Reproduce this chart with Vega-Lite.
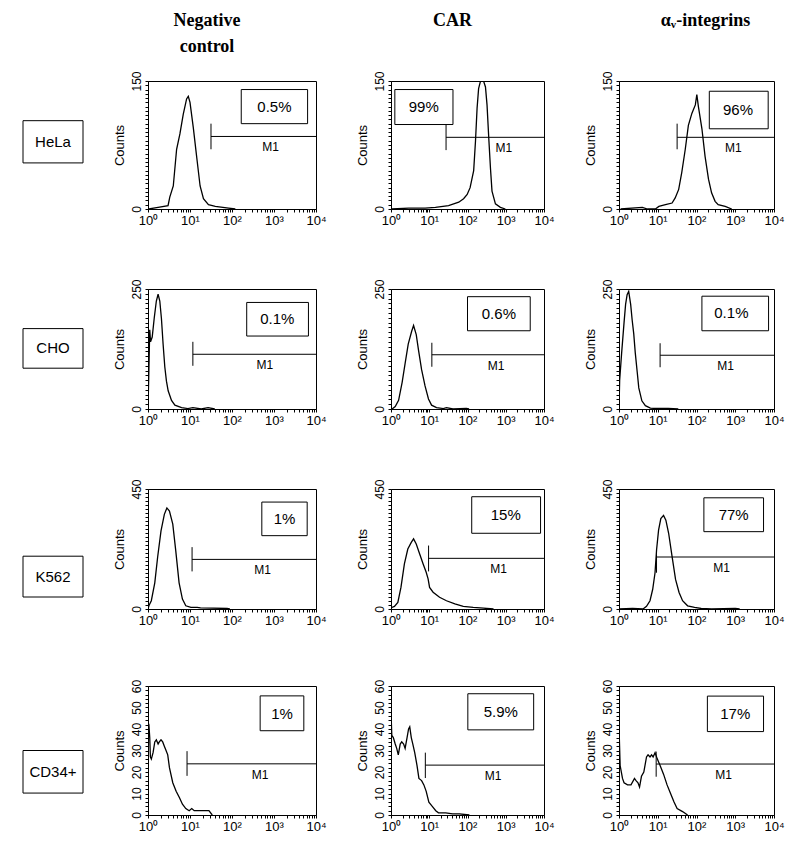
{
"$schema": "https://vega.github.io/schema/vega-lite/v6.json",
"padding": {"left": 22, "top": 11, "right": 5, "bottom": 5},
"background": "white",
"columns": 4,
"align": "each",
"spacing": {"row": 50, "column": 28},
"config": {
  "view": {"stroke": "black", "strokeWidth": 1},
  "axis": {"domainColor": "black", "tickColor": "black", "labelColor": "black", "titleColor": "black", "grid": false, "labelFont": "Liberation Sans", "titleFont": "Liberation Sans", "labelFlush": false, "labelOverlap": false, "tickSize": 3, "domainWidth": 1},
  "axisY": {"labelAngle": -90, "labelAlign": "center", "labelBaseline": "bottom", "titleFontWeight": "normal", "titleFontSize": 13, "labelFontSize": 12, "titlePadding": 4, "labelPadding": 2},
  "axisX": {"labelFontSize": 13, "labelPadding": 2},
  "title": {"font": "Liberation Serif", "fontSize": 18, "fontWeight": "bold", "color": "black", "anchor": "middle"},
  "line": {"color": "black", "strokeWidth": 1.3},
  "rule": {"color": "black", "strokeWidth": 1},
  "text": {"font": "Liberation Sans", "color": "black"}
},
"datasets": {
  "rowlabels": [
    {"row": "HeLa", "y1": 0.31, "y2": 0.64, "ym": 0.475},
    {"row": "CHO", "y1": 0.33, "y2": 0.66, "ym": 0.495},
    {"row": "K562", "y1": 0.56, "y2": 0.9, "ym": 0.73},
    {"row": "CD34+", "y1": 0.5, "y2": 0.83, "ym": 0.665}
  ],
  "annot": [
    {"panel":"HeLa-neg","kind":"gate","fl":31.6,"fl2":10000,"count":85},
    {"panel":"HeLa-neg","kind":"tick","fl":31.6,"count":70,"count2":100},
    {"panel":"HeLa-neg","kind":"m1","fl":832,"count":85,"text":"M1"},
    {"panel":"HeLa-neg","kind":"box","fl":166,"fl2":6310,"count":100,"count2":140},
    {"panel":"HeLa-neg","kind":"pct","fl":1023,"count":120,"text":"0.5%"},
    {"panel":"HeLa-CAR","kind":"gate","fl":27.5,"fl2":10000,"count":84},
    {"panel":"HeLa-CAR","kind":"tick","fl":27.5,"count":69,"count2":99},
    {"panel":"HeLa-CAR","kind":"m1","fl":891,"count":84,"text":"M1"},
    {"panel":"HeLa-CAR","kind":"box","fl":1.26,"fl2":41.7,"count":99,"count2":140},
    {"panel":"HeLa-CAR","kind":"pct","fl":7.2,"count":120,"text":"99%"},
    {"panel":"HeLa-av","kind":"gate","fl":31.6,"fl2":10000,"count":84},
    {"panel":"HeLa-av","kind":"tick","fl":31.6,"count":70,"count2":100},
    {"panel":"HeLa-av","kind":"m1","fl":891,"count":84,"text":"M1"},
    {"panel":"HeLa-av","kind":"box","fl":214,"fl2":7079,"count":94,"count2":138},
    {"panel":"HeLa-av","kind":"pct","fl":1175,"count":116,"text":"96%"},
    {"panel":"CHO-neg","kind":"gate","fl":11.7,"fl2":10000,"count":114},
    {"panel":"CHO-neg","kind":"tick","fl":11.7,"count":90,"count2":140},
    {"panel":"CHO-neg","kind":"m1","fl":603,"count":114,"text":"M1"},
    {"panel":"CHO-neg","kind":"box","fl":224,"fl2":6607,"count":152,"count2":222},
    {"panel":"CHO-neg","kind":"pct","fl":1202,"count":187,"text":"0.1%"},
    {"panel":"CHO-CAR","kind":"gate","fl":11.7,"fl2":10000,"count":113},
    {"panel":"CHO-CAR","kind":"tick","fl":11.7,"count":88,"count2":138},
    {"panel":"CHO-CAR","kind":"m1","fl":562,"count":113,"text":"M1"},
    {"panel":"CHO-CAR","kind":"box","fl":100,"fl2":4365,"count":163,"count2":234},
    {"panel":"CHO-CAR","kind":"pct","fl":661,"count":198,"text":"0.6%"},
    {"panel":"CHO-av","kind":"gate","fl":11.5,"fl2":10000,"count":112},
    {"panel":"CHO-av","kind":"tick","fl":11.5,"count":87,"count2":137},
    {"panel":"CHO-av","kind":"m1","fl":562,"count":112,"text":"M1"},
    {"panel":"CHO-av","kind":"box","fl":138,"fl2":7244,"count":163,"count2":235},
    {"panel":"CHO-av","kind":"pct","fl":794,"count":199,"text":"0.1%"},
    {"panel":"K562-neg","kind":"gate","fl":11.2,"fl2":10000,"count":186},
    {"panel":"K562-neg","kind":"tick","fl":11.2,"count":141,"count2":232},
    {"panel":"K562-neg","kind":"m1","fl":537,"count":186,"text":"M1"},
    {"panel":"K562-neg","kind":"box","fl":513,"fl2":6166,"count":275,"count2":401},
    {"panel":"K562-neg","kind":"pct","fl":1778,"count":338,"text":"1%"},
    {"panel":"K562-CAR","kind":"gate","fl":9.6,"fl2":10000,"count":190},
    {"panel":"K562-CAR","kind":"tick","fl":9.6,"count":141,"count2":238},
    {"panel":"K562-CAR","kind":"m1","fl":646,"count":190,"text":"M1"},
    {"panel":"K562-CAR","kind":"box","fl":129,"fl2":8128,"count":284,"count2":421},
    {"panel":"K562-CAR","kind":"pct","fl":1000,"count":352,"text":"15%"},
    {"panel":"K562-av","kind":"gate","fl":9.3,"fl2":10000,"count":195},
    {"panel":"K562-av","kind":"tick","fl":9.3,"count":136,"count2":205},
    {"panel":"K562-av","kind":"m1","fl":447,"count":195,"text":"M1"},
    {"panel":"K562-av","kind":"box","fl":155,"fl2":5370,"count":290,"count2":417},
    {"panel":"K562-av","kind":"pct","fl":912,"count":352,"text":"77%"},
    {"panel":"CD34-neg","kind":"gate","fl":8.5,"fl2":10000,"count":23.8},
    {"panel":"CD34-neg","kind":"tick","fl":8.5,"count":18.2,"count2":29.7},
    {"panel":"CD34-neg","kind":"m1","fl":468,"count":23.8,"text":"M1"},
    {"panel":"CD34-neg","kind":"box","fl":468,"fl2":5129,"count":39.2,"count2":55.4},
    {"panel":"CD34-neg","kind":"pct","fl":1549,"count":47,"text":"1%"},
    {"panel":"CD34-CAR","kind":"gate","fl":7.9,"fl2":10000,"count":23.2},
    {"panel":"CD34-CAR","kind":"tick","fl":7.9,"count":17.2,"count2":29},
    {"panel":"CD34-CAR","kind":"m1","fl":468,"count":23.2,"text":"M1"},
    {"panel":"CD34-CAR","kind":"box","fl":102,"fl2":5370,"count":39.6,"count2":56.4},
    {"panel":"CD34-CAR","kind":"pct","fl":741,"count":48,"text":"5.9%"},
    {"panel":"CD34-av","kind":"gate","fl":9.1,"fl2":10000,"count":23.7},
    {"panel":"CD34-av","kind":"tick","fl":9.1,"count":17.8,"count2":29.5},
    {"panel":"CD34-av","kind":"m1","fl":501,"count":23.7,"text":"M1"},
    {"panel":"CD34-av","kind":"box","fl":191,"fl2":5370,"count":38.8,"count2":55.3},
    {"panel":"CD34-av","kind":"pct","fl":1000,"count":47,"text":"17%"}
  ],
  "hist": [
    {"panel":"HeLa-neg","fl":1.05,"count":0},{"panel":"HeLa-neg","fl":1.74,"count":2},{"panel":"HeLa-neg","fl":3.0,"count":4},{"panel":"HeLa-neg","fl":3.3,"count":14},{"panel":"HeLa-neg","fl":4.0,"count":27},{"panel":"HeLa-neg","fl":4.8,"count":70},{"panel":"HeLa-neg","fl":5.75,"count":88},{"panel":"HeLa-neg","fl":6.9,"count":111},{"panel":"HeLa-neg","fl":8.3,"count":129},{"panel":"HeLa-neg","fl":9.1,"count":132},{"panel":"HeLa-neg","fl":10,"count":125},{"panel":"HeLa-neg","fl":12,"count":95},{"panel":"HeLa-neg","fl":14.5,"count":60},{"panel":"HeLa-neg","fl":17.4,"count":27},{"panel":"HeLa-neg","fl":20.9,"count":12},{"panel":"HeLa-neg","fl":27.5,"count":5},{"panel":"HeLa-neg","fl":40,"count":3},{"panel":"HeLa-neg","fl":83,"count":1},{"panel":"HeLa-neg","fl":120,"count":0},
    {"panel":"HeLa-CAR","fl":1.05,"count":0},{"panel":"HeLa-CAR","fl":2.9,"count":1},{"panel":"HeLa-CAR","fl":7.8,"count":1},{"panel":"HeLa-CAR","fl":14.5,"count":2},{"panel":"HeLa-CAR","fl":32,"count":4},{"panel":"HeLa-CAR","fl":59,"count":8},{"panel":"HeLa-CAR","fl":79,"count":12},{"panel":"HeLa-CAR","fl":98,"count":17},{"panel":"HeLa-CAR","fl":117,"count":25},{"panel":"HeLa-CAR","fl":145,"count":45},{"panel":"HeLa-CAR","fl":162,"count":80},{"panel":"HeLa-CAR","fl":178,"count":118},{"panel":"HeLa-CAR","fl":195,"count":141},{"panel":"HeLa-CAR","fl":219,"count":150},{"panel":"HeLa-CAR","fl":263,"count":150},{"panel":"HeLa-CAR","fl":295,"count":143},{"panel":"HeLa-CAR","fl":324,"count":122},{"panel":"HeLa-CAR","fl":363,"count":80},{"panel":"HeLa-CAR","fl":398,"count":48},{"panel":"HeLa-CAR","fl":437,"count":21},{"panel":"HeLa-CAR","fl":537,"count":6},{"panel":"HeLa-CAR","fl":724,"count":2},{"panel":"HeLa-CAR","fl":977,"count":0},
    {"panel":"HeLa-av","fl":1.1,"count":0},{"panel":"HeLa-av","fl":4.0,"count":2},{"panel":"HeLa-av","fl":5.4,"count":0},{"panel":"HeLa-av","fl":8.7,"count":0},{"panel":"HeLa-av","fl":10.7,"count":3},{"panel":"HeLa-av","fl":15.8,"count":5},{"panel":"HeLa-av","fl":23.4,"count":7},{"panel":"HeLa-av","fl":28.2,"count":13},{"panel":"HeLa-av","fl":34.7,"count":23},{"panel":"HeLa-av","fl":41.7,"count":43},{"panel":"HeLa-av","fl":51.3,"count":70},{"panel":"HeLa-av","fl":61.7,"count":98},{"panel":"HeLa-av","fl":75.9,"count":112},{"panel":"HeLa-av","fl":93.3,"count":122},{"panel":"HeLa-av","fl":102,"count":134},{"panel":"HeLa-av","fl":112,"count":120},{"panel":"HeLa-av","fl":138,"count":94},{"panel":"HeLa-av","fl":166,"count":62},{"panel":"HeLa-av","fl":204,"count":35},{"panel":"HeLa-av","fl":245,"count":19},{"panel":"HeLa-av","fl":302,"count":9},{"panel":"HeLa-av","fl":363,"count":5},{"panel":"HeLa-av","fl":550,"count":3},{"panel":"HeLa-av","fl":813,"count":0},
    {"panel":"CHO-neg","fl":1,"count":0},{"panel":"CHO-neg","fl":1.05,"count":82},{"panel":"CHO-neg","fl":1.1,"count":165},{"panel":"CHO-neg","fl":1.15,"count":140},{"panel":"CHO-neg","fl":1.26,"count":150},{"panel":"CHO-neg","fl":1.41,"count":190},{"panel":"CHO-neg","fl":1.58,"count":225},{"panel":"CHO-neg","fl":1.74,"count":239},{"panel":"CHO-neg","fl":1.91,"count":225},{"panel":"CHO-neg","fl":2.09,"count":188},{"panel":"CHO-neg","fl":2.29,"count":135},{"panel":"CHO-neg","fl":2.51,"count":88},{"panel":"CHO-neg","fl":2.75,"count":58},{"panel":"CHO-neg","fl":3.02,"count":38},{"panel":"CHO-neg","fl":3.63,"count":18},{"panel":"CHO-neg","fl":4.37,"count":8},{"panel":"CHO-neg","fl":6.31,"count":3},{"panel":"CHO-neg","fl":8.91,"count":1},{"panel":"CHO-neg","fl":11.7,"count":3},{"panel":"CHO-neg","fl":18.6,"count":0},{"panel":"CHO-neg","fl":26.9,"count":3},{"panel":"CHO-neg","fl":38.9,"count":0},
    {"panel":"CHO-CAR","fl":1.07,"count":0},{"panel":"CHO-CAR","fl":1.29,"count":5},{"panel":"CHO-CAR","fl":1.58,"count":18},{"panel":"CHO-CAR","fl":1.95,"count":55},{"panel":"CHO-CAR","fl":2.34,"count":95},{"panel":"CHO-CAR","fl":2.82,"count":135},{"panel":"CHO-CAR","fl":3.47,"count":162},{"panel":"CHO-CAR","fl":3.89,"count":174},{"panel":"CHO-CAR","fl":4.57,"count":155},{"panel":"CHO-CAR","fl":5.25,"count":122},{"panel":"CHO-CAR","fl":6.31,"count":82},{"panel":"CHO-CAR","fl":7.76,"count":48},{"panel":"CHO-CAR","fl":9.55,"count":21},{"panel":"CHO-CAR","fl":11.5,"count":8},{"panel":"CHO-CAR","fl":15.5,"count":3},{"panel":"CHO-CAR","fl":23.4,"count":1},{"panel":"CHO-CAR","fl":28.2,"count":3},{"panel":"CHO-CAR","fl":41.7,"count":0},{"panel":"CHO-CAR","fl":93.3,"count":1},{"panel":"CHO-CAR","fl":110,"count":0},
    {"panel":"CHO-av","fl":1,"count":0},{"panel":"CHO-av","fl":1.04,"count":60},{"panel":"CHO-av","fl":1.17,"count":117},{"panel":"CHO-av","fl":1.35,"count":180},{"panel":"CHO-av","fl":1.48,"count":218},{"panel":"CHO-av","fl":1.62,"count":238},{"panel":"CHO-av","fl":1.78,"count":245},{"panel":"CHO-av","fl":2.0,"count":218},{"panel":"CHO-av","fl":2.19,"count":185},{"panel":"CHO-av","fl":2.4,"count":157},{"panel":"CHO-av","fl":2.63,"count":117},{"panel":"CHO-av","fl":2.95,"count":77},{"panel":"CHO-av","fl":3.24,"count":44},{"panel":"CHO-av","fl":3.89,"count":17},{"panel":"CHO-av","fl":4.79,"count":7},{"panel":"CHO-av","fl":6.46,"count":2},{"panel":"CHO-av","fl":8.51,"count":1},{"panel":"CHO-av","fl":18.6,"count":1},{"panel":"CHO-av","fl":33.9,"count":0},
    {"panel":"K562-neg","fl":1,"count":0},{"panel":"K562-neg","fl":1.05,"count":12},{"panel":"K562-neg","fl":1.2,"count":31},{"panel":"K562-neg","fl":1.45,"count":98},{"panel":"K562-neg","fl":1.7,"count":196},{"panel":"K562-neg","fl":2.04,"count":293},{"panel":"K562-neg","fl":2.45,"count":355},{"panel":"K562-neg","fl":2.82,"count":379},{"panel":"K562-neg","fl":3.24,"count":367},{"panel":"K562-neg","fl":3.89,"count":318},{"panel":"K562-neg","fl":4.57,"count":220},{"panel":"K562-neg","fl":5.5,"count":98},{"panel":"K562-neg","fl":6.6,"count":37},{"panel":"K562-neg","fl":7.94,"count":12},{"panel":"K562-neg","fl":10.5,"count":6},{"panel":"K562-neg","fl":14.8,"count":6},{"panel":"K562-neg","fl":17.8,"count":4},{"panel":"K562-neg","fl":75.9,"count":2},{"panel":"K562-neg","fl":89,"count":0},
    {"panel":"K562-CAR","fl":1,"count":0},{"panel":"K562-CAR","fl":1.05,"count":6},{"panel":"K562-CAR","fl":1.23,"count":10},{"panel":"K562-CAR","fl":1.51,"count":25},{"panel":"K562-CAR","fl":1.82,"count":81},{"panel":"K562-CAR","fl":2.24,"count":169},{"panel":"K562-CAR","fl":2.75,"count":225},{"panel":"K562-CAR","fl":3.39,"count":250},{"panel":"K562-CAR","fl":3.89,"count":263},{"panel":"K562-CAR","fl":4.57,"count":244},{"panel":"K562-CAR","fl":5.62,"count":206},{"panel":"K562-CAR","fl":6.92,"count":169},{"panel":"K562-CAR","fl":8.32,"count":138},{"panel":"K562-CAR","fl":9.33,"count":113},{"panel":"K562-CAR","fl":10.2,"count":81},{"panel":"K562-CAR","fl":12.6,"count":63},{"panel":"K562-CAR","fl":18.6,"count":44},{"panel":"K562-CAR","fl":28.2,"count":31},{"panel":"K562-CAR","fl":46.8,"count":19},{"panel":"K562-CAR","fl":77.6,"count":10},{"panel":"K562-CAR","fl":141,"count":6},{"panel":"K562-CAR","fl":263,"count":3},{"panel":"K562-CAR","fl":479,"count":0},
    {"panel":"K562-av","fl":1,"count":0},{"panel":"K562-av","fl":2.24,"count":2},{"panel":"K562-av","fl":4.17,"count":0},{"panel":"K562-av","fl":5.13,"count":10},{"panel":"K562-av","fl":6.31,"count":31},{"panel":"K562-av","fl":7.41,"count":74},{"panel":"K562-av","fl":8.51,"count":136},{"panel":"K562-av","fl":9.33,"count":222},{"panel":"K562-av","fl":10.5,"count":296},{"panel":"K562-av","fl":12.0,"count":339},{"panel":"K562-av","fl":14.1,"count":351},{"panel":"K562-av","fl":16.2,"count":333},{"panel":"K562-av","fl":19.1,"count":284},{"panel":"K562-av","fl":23.4,"count":197},{"panel":"K562-av","fl":28.8,"count":111},{"panel":"K562-av","fl":35.5,"count":62},{"panel":"K562-av","fl":43.7,"count":31},{"panel":"K562-av","fl":58.9,"count":12},{"panel":"K562-av","fl":89.1,"count":6},{"panel":"K562-av","fl":132,"count":2},{"panel":"K562-av","fl":245,"count":0},{"panel":"K562-av","fl":1000,"count":2},{"panel":"K562-av","fl":1300,"count":0},
    {"panel":"CD34-neg","fl":1,"count":43},{"panel":"CD34-neg","fl":1.05,"count":42},{"panel":"CD34-neg","fl":1.1,"count":36},{"panel":"CD34-neg","fl":1.14,"count":27},{"panel":"CD34-neg","fl":1.2,"count":26},{"panel":"CD34-neg","fl":1.32,"count":29},{"panel":"CD34-neg","fl":1.45,"count":34},{"panel":"CD34-neg","fl":1.58,"count":35},{"panel":"CD34-neg","fl":1.74,"count":33},{"panel":"CD34-neg","fl":1.86,"count":34},{"panel":"CD34-neg","fl":2.04,"count":35},{"panel":"CD34-neg","fl":2.24,"count":34},{"panel":"CD34-neg","fl":2.45,"count":32},{"panel":"CD34-neg","fl":2.69,"count":30},{"panel":"CD34-neg","fl":2.95,"count":28},{"panel":"CD34-neg","fl":3.24,"count":22},{"panel":"CD34-neg","fl":3.89,"count":15},{"panel":"CD34-neg","fl":4.68,"count":11},{"panel":"CD34-neg","fl":5.62,"count":8},{"panel":"CD34-neg","fl":6.61,"count":5},{"panel":"CD34-neg","fl":7.94,"count":3},{"panel":"CD34-neg","fl":9.55,"count":2},{"panel":"CD34-neg","fl":11.0,"count":3},{"panel":"CD34-neg","fl":12.6,"count":2},{"panel":"CD34-neg","fl":16.6,"count":2},{"panel":"CD34-neg","fl":28.2,"count":2},{"panel":"CD34-neg","fl":33.9,"count":0},
    {"panel":"CD34-CAR","fl":1,"count":48},{"panel":"CD34-CAR","fl":1.05,"count":37},{"panel":"CD34-CAR","fl":1.15,"count":36},{"panel":"CD34-CAR","fl":1.29,"count":33},{"panel":"CD34-CAR","fl":1.41,"count":31},{"panel":"CD34-CAR","fl":1.55,"count":28},{"panel":"CD34-CAR","fl":1.74,"count":33},{"panel":"CD34-CAR","fl":1.91,"count":34},{"panel":"CD34-CAR","fl":2.14,"count":33},{"panel":"CD34-CAR","fl":2.34,"count":31},{"panel":"CD34-CAR","fl":2.63,"count":36},{"panel":"CD34-CAR","fl":2.88,"count":40},{"panel":"CD34-CAR","fl":3.09,"count":41},{"panel":"CD34-CAR","fl":3.39,"count":36},{"panel":"CD34-CAR","fl":3.72,"count":33},{"panel":"CD34-CAR","fl":4.17,"count":29},{"panel":"CD34-CAR","fl":4.79,"count":23},{"panel":"CD34-CAR","fl":5.37,"count":17},{"panel":"CD34-CAR","fl":6.31,"count":16},{"panel":"CD34-CAR","fl":7.24,"count":14},{"panel":"CD34-CAR","fl":8.32,"count":11},{"panel":"CD34-CAR","fl":9.77,"count":6},{"panel":"CD34-CAR","fl":12.0,"count":4},{"panel":"CD34-CAR","fl":14.8,"count":2},{"panel":"CD34-CAR","fl":17.4,"count":1},{"panel":"CD34-CAR","fl":26.9,"count":1},{"panel":"CD34-CAR","fl":40.7,"count":0.5},{"panel":"CD34-CAR","fl":61.7,"count":0.5},{"panel":"CD34-CAR","fl":112,"count":0},
    {"panel":"CD34-av","fl":1,"count":41},{"panel":"CD34-av","fl":1.07,"count":23},{"panel":"CD34-av","fl":1.23,"count":17},{"panel":"CD34-av","fl":1.35,"count":15},{"panel":"CD34-av","fl":1.66,"count":14},{"panel":"CD34-av","fl":2.04,"count":14},{"panel":"CD34-av","fl":2.51,"count":17},{"panel":"CD34-av","fl":2.75,"count":16},{"panel":"CD34-av","fl":3.09,"count":15},{"panel":"CD34-av","fl":3.39,"count":13},{"panel":"CD34-av","fl":3.8,"count":18},{"panel":"CD34-av","fl":4.37,"count":20},{"panel":"CD34-av","fl":5.13,"count":27},{"panel":"CD34-av","fl":5.62,"count":28},{"panel":"CD34-av","fl":6.31,"count":27},{"panel":"CD34-av","fl":6.92,"count":28},{"panel":"CD34-av","fl":7.59,"count":27},{"panel":"CD34-av","fl":8.51,"count":29},{"panel":"CD34-av","fl":9.77,"count":26},{"panel":"CD34-av","fl":11.5,"count":23},{"panel":"CD34-av","fl":14.1,"count":19},{"panel":"CD34-av","fl":17.4,"count":14},{"panel":"CD34-av","fl":21.4,"count":10},{"panel":"CD34-av","fl":26.3,"count":6},{"panel":"CD34-av","fl":31.6,"count":3},{"panel":"CD34-av","fl":43.7,"count":1.6},{"panel":"CD34-av","fl":58.9,"count":0}
  ]
},
"concat": [
  {"width": 60, "height": 128, "view": {"stroke": null}, "data": {"name": "rowlabels"}, "transform": [{"filter": "datum.row=='HeLa'"}],
   "layer": [
     {"mark": {"type": "rect", "fill": "white", "stroke": "black", "strokeWidth": 1}, "encoding": {"y": {"field": "y1", "type": "quantitative", "scale": {"domain": [0, 1], "reverse": true}, "axis": null}, "y2": {"field": "y2"}}},
     {"mark": {"type": "text", "fontSize": 15}, "encoding": {"y": {"field": "ym", "type": "quantitative"}, "text": {"field": "row"}}}
   ]},
  {"width": 168, "height": 128, "title": {"text": ["Negative", "control"], "lineHeight": 26, "offset": 15, "dx": -25},
   "encoding": {
     "x": {"field": "fl", "type": "quantitative", "scale": {"type": "log", "domain": [1, 10000], "nice": false}, "axis": {"title": null, "values": [1,2,3,4,5,6,7,8,9,10,20,30,40,50,60,70,80,90,100,200,300,400,500,600,700,800,900,1000,2000,3000,4000,5000,6000,7000,8000,9000,10000], "labelExpr": "datum.value==1?'10⁰':datum.value==10?'10¹':datum.value==100?'10²':datum.value==1000?'10³':datum.value==10000?'10⁴':''"}},
     "y": {"field": "count", "type": "quantitative", "scale": {"domain": [0, 150], "nice": false}, "axis": {"title": "Counts", "values": [0,5,10,15,20,25,30,35,40,45,50,55,60,65,70,75,80,85,90,95,100,105,110,115,120,125,130,135,140,145,150], "labelExpr": "datum.value==0||datum.value==150?datum.label:''"}}},
   "layer": [
     {"data": {"name": "hist"}, "transform": [{"filter": "datum.panel=='HeLa-neg'"}], "mark": {"type": "line", "clip": true}},
     {"data": {"name": "annot"}, "transform": [{"filter": "datum.panel=='HeLa-neg'"}],
      "layer": [
        {"transform": [{"filter": "datum.kind=='gate'"}], "mark": "rule", "encoding": {"x2": {"field": "fl2"}}},
        {"transform": [{"filter": "datum.kind=='tick'"}], "mark": "rule", "encoding": {"y2": {"field": "count2"}}},
        {"transform": [{"filter": "datum.kind=='box'"}], "mark": {"type": "rect", "fill": null, "stroke": "black", "strokeWidth": 1}, "encoding": {"x2": {"field": "fl2"}, "y2": {"field": "count2"}}},
        {"transform": [{"filter": "datum.kind=='m1'"}], "mark": {"type": "text", "baseline": "top", "dy": 6, "fontSize": 12}, "encoding": {"text": {"field": "text"}}},
        {"transform": [{"filter": "datum.kind=='pct'"}], "mark": {"type": "text", "fontSize": 15}, "encoding": {"text": {"field": "text"}}}
      ]}
   ]},
  {"width": 153, "height": 128, "title": {"text": "CAR", "offset": 41, "dx": -15},
   "encoding": {
     "x": {"field": "fl", "type": "quantitative", "scale": {"type": "log", "domain": [1, 10000], "nice": false}, "axis": {"title": null, "values": [1,2,3,4,5,6,7,8,9,10,20,30,40,50,60,70,80,90,100,200,300,400,500,600,700,800,900,1000,2000,3000,4000,5000,6000,7000,8000,9000,10000], "labelExpr": "datum.value==1?'10⁰':datum.value==10?'10¹':datum.value==100?'10²':datum.value==1000?'10³':datum.value==10000?'10⁴':''"}},
     "y": {"field": "count", "type": "quantitative", "scale": {"domain": [0, 150], "nice": false}, "axis": {"title": "Counts", "values": [0,5,10,15,20,25,30,35,40,45,50,55,60,65,70,75,80,85,90,95,100,105,110,115,120,125,130,135,140,145,150], "labelExpr": "datum.value==0||datum.value==150?datum.label:''"}}},
   "layer": [
     {"data": {"name": "hist"}, "transform": [{"filter": "datum.panel=='HeLa-CAR'"}], "mark": {"type": "line", "clip": true}},
     {"data": {"name": "annot"}, "transform": [{"filter": "datum.panel=='HeLa-CAR'"}],
      "layer": [
        {"transform": [{"filter": "datum.kind=='gate'"}], "mark": "rule", "encoding": {"x2": {"field": "fl2"}}},
        {"transform": [{"filter": "datum.kind=='tick'"}], "mark": "rule", "encoding": {"y2": {"field": "count2"}}},
        {"transform": [{"filter": "datum.kind=='box'"}], "mark": {"type": "rect", "fill": null, "stroke": "black", "strokeWidth": 1}, "encoding": {"x2": {"field": "fl2"}, "y2": {"field": "count2"}}},
        {"transform": [{"filter": "datum.kind=='m1'"}], "mark": {"type": "text", "baseline": "top", "dy": 6, "fontSize": 12}, "encoding": {"text": {"field": "text"}}},
        {"transform": [{"filter": "datum.kind=='pct'"}], "mark": {"type": "text", "fontSize": 15}, "encoding": {"text": {"field": "text"}}}
      ]}
   ]},
  {"width": 155, "height": 128, "title": {"text": "αᵥ-integrins", "offset": 41, "dx": 9},
   "encoding": {
     "x": {"field": "fl", "type": "quantitative", "scale": {"type": "log", "domain": [1, 10000], "nice": false}, "axis": {"title": null, "values": [1,2,3,4,5,6,7,8,9,10,20,30,40,50,60,70,80,90,100,200,300,400,500,600,700,800,900,1000,2000,3000,4000,5000,6000,7000,8000,9000,10000], "labelExpr": "datum.value==1?'10⁰':datum.value==10?'10¹':datum.value==100?'10²':datum.value==1000?'10³':datum.value==10000?'10⁴':''"}},
     "y": {"field": "count", "type": "quantitative", "scale": {"domain": [0, 150], "nice": false}, "axis": {"title": "Counts", "values": [0,5,10,15,20,25,30,35,40,45,50,55,60,65,70,75,80,85,90,95,100,105,110,115,120,125,130,135,140,145,150], "labelExpr": "datum.value==0||datum.value==150?datum.label:''"}}},
   "layer": [
     {"data": {"name": "hist"}, "transform": [{"filter": "datum.panel=='HeLa-av'"}], "mark": {"type": "line", "clip": true}},
     {"data": {"name": "annot"}, "transform": [{"filter": "datum.panel=='HeLa-av'"}],
      "layer": [
        {"transform": [{"filter": "datum.kind=='gate'"}], "mark": "rule", "encoding": {"x2": {"field": "fl2"}}},
        {"transform": [{"filter": "datum.kind=='tick'"}], "mark": "rule", "encoding": {"y2": {"field": "count2"}}},
        {"transform": [{"filter": "datum.kind=='box'"}], "mark": {"type": "rect", "fill": null, "stroke": "black", "strokeWidth": 1}, "encoding": {"x2": {"field": "fl2"}, "y2": {"field": "count2"}}},
        {"transform": [{"filter": "datum.kind=='m1'"}], "mark": {"type": "text", "baseline": "top", "dy": 6, "fontSize": 12}, "encoding": {"text": {"field": "text"}}},
        {"transform": [{"filter": "datum.kind=='pct'"}], "mark": {"type": "text", "fontSize": 15}, "encoding": {"text": {"field": "text"}}}
      ]}
   ]},

  {"width": 60, "height": 120, "view": {"stroke": null}, "data": {"name": "rowlabels"}, "transform": [{"filter": "datum.row=='CHO'"}],
   "layer": [
     {"mark": {"type": "rect", "fill": "white", "stroke": "black", "strokeWidth": 1}, "encoding": {"y": {"field": "y1", "type": "quantitative", "scale": {"domain": [0, 1], "reverse": true}, "axis": null}, "y2": {"field": "y2"}}},
     {"mark": {"type": "text", "fontSize": 15}, "encoding": {"y": {"field": "ym", "type": "quantitative"}, "text": {"field": "row"}}}
   ]},
  {"width": 168, "height": 120,
   "encoding": {
     "x": {"field": "fl", "type": "quantitative", "scale": {"type": "log", "domain": [1, 10000], "nice": false}, "axis": {"title": null, "values": [1,2,3,4,5,6,7,8,9,10,20,30,40,50,60,70,80,90,100,200,300,400,500,600,700,800,900,1000,2000,3000,4000,5000,6000,7000,8000,9000,10000], "labelExpr": "datum.value==1?'10⁰':datum.value==10?'10¹':datum.value==100?'10²':datum.value==1000?'10³':datum.value==10000?'10⁴':''"}},
     "y": {"field": "count", "type": "quantitative", "scale": {"domain": [0, 250], "nice": false}, "axis": {"title": "Counts", "values": [0,10,20,30,40,50,60,70,80,90,100,110,120,130,140,150,160,170,180,190,200,210,220,230,240,250], "labelExpr": "datum.value==0||datum.value==250?datum.label:''"}}},
   "layer": [
     {"data": {"name": "hist"}, "transform": [{"filter": "datum.panel=='CHO-neg'"}], "mark": {"type": "line", "clip": true}},
     {"data": {"name": "annot"}, "transform": [{"filter": "datum.panel=='CHO-neg'"}],
      "layer": [
        {"transform": [{"filter": "datum.kind=='gate'"}], "mark": "rule", "encoding": {"x2": {"field": "fl2"}}},
        {"transform": [{"filter": "datum.kind=='tick'"}], "mark": "rule", "encoding": {"y2": {"field": "count2"}}},
        {"transform": [{"filter": "datum.kind=='box'"}], "mark": {"type": "rect", "fill": null, "stroke": "black", "strokeWidth": 1}, "encoding": {"x2": {"field": "fl2"}, "y2": {"field": "count2"}}},
        {"transform": [{"filter": "datum.kind=='m1'"}], "mark": {"type": "text", "baseline": "top", "dy": 6, "fontSize": 12}, "encoding": {"text": {"field": "text"}}},
        {"transform": [{"filter": "datum.kind=='pct'"}], "mark": {"type": "text", "fontSize": 15}, "encoding": {"text": {"field": "text"}}}
      ]}
   ]},
  {"width": 153, "height": 120,
   "encoding": {
     "x": {"field": "fl", "type": "quantitative", "scale": {"type": "log", "domain": [1, 10000], "nice": false}, "axis": {"title": null, "values": [1,2,3,4,5,6,7,8,9,10,20,30,40,50,60,70,80,90,100,200,300,400,500,600,700,800,900,1000,2000,3000,4000,5000,6000,7000,8000,9000,10000], "labelExpr": "datum.value==1?'10⁰':datum.value==10?'10¹':datum.value==100?'10²':datum.value==1000?'10³':datum.value==10000?'10⁴':''"}},
     "y": {"field": "count", "type": "quantitative", "scale": {"domain": [0, 250], "nice": false}, "axis": {"title": "Counts", "values": [0,10,20,30,40,50,60,70,80,90,100,110,120,130,140,150,160,170,180,190,200,210,220,230,240,250], "labelExpr": "datum.value==0||datum.value==250?datum.label:''"}}},
   "layer": [
     {"data": {"name": "hist"}, "transform": [{"filter": "datum.panel=='CHO-CAR'"}], "mark": {"type": "line", "clip": true}},
     {"data": {"name": "annot"}, "transform": [{"filter": "datum.panel=='CHO-CAR'"}],
      "layer": [
        {"transform": [{"filter": "datum.kind=='gate'"}], "mark": "rule", "encoding": {"x2": {"field": "fl2"}}},
        {"transform": [{"filter": "datum.kind=='tick'"}], "mark": "rule", "encoding": {"y2": {"field": "count2"}}},
        {"transform": [{"filter": "datum.kind=='box'"}], "mark": {"type": "rect", "fill": null, "stroke": "black", "strokeWidth": 1}, "encoding": {"x2": {"field": "fl2"}, "y2": {"field": "count2"}}},
        {"transform": [{"filter": "datum.kind=='m1'"}], "mark": {"type": "text", "baseline": "top", "dy": 6, "fontSize": 12}, "encoding": {"text": {"field": "text"}}},
        {"transform": [{"filter": "datum.kind=='pct'"}], "mark": {"type": "text", "fontSize": 15}, "encoding": {"text": {"field": "text"}}}
      ]}
   ]},
  {"width": 155, "height": 120,
   "encoding": {
     "x": {"field": "fl", "type": "quantitative", "scale": {"type": "log", "domain": [1, 10000], "nice": false}, "axis": {"title": null, "values": [1,2,3,4,5,6,7,8,9,10,20,30,40,50,60,70,80,90,100,200,300,400,500,600,700,800,900,1000,2000,3000,4000,5000,6000,7000,8000,9000,10000], "labelExpr": "datum.value==1?'10⁰':datum.value==10?'10¹':datum.value==100?'10²':datum.value==1000?'10³':datum.value==10000?'10⁴':''"}},
     "y": {"field": "count", "type": "quantitative", "scale": {"domain": [0, 250], "nice": false}, "axis": {"title": "Counts", "values": [0,10,20,30,40,50,60,70,80,90,100,110,120,130,140,150,160,170,180,190,200,210,220,230,240,250], "labelExpr": "datum.value==0||datum.value==250?datum.label:''"}}},
   "layer": [
     {"data": {"name": "hist"}, "transform": [{"filter": "datum.panel=='CHO-av'"}], "mark": {"type": "line", "clip": true}},
     {"data": {"name": "annot"}, "transform": [{"filter": "datum.panel=='CHO-av'"}],
      "layer": [
        {"transform": [{"filter": "datum.kind=='gate'"}], "mark": "rule", "encoding": {"x2": {"field": "fl2"}}},
        {"transform": [{"filter": "datum.kind=='tick'"}], "mark": "rule", "encoding": {"y2": {"field": "count2"}}},
        {"transform": [{"filter": "datum.kind=='box'"}], "mark": {"type": "rect", "fill": null, "stroke": "black", "strokeWidth": 1}, "encoding": {"x2": {"field": "fl2"}, "y2": {"field": "count2"}}},
        {"transform": [{"filter": "datum.kind=='m1'"}], "mark": {"type": "text", "baseline": "top", "dy": 6, "fontSize": 12}, "encoding": {"text": {"field": "text"}}},
        {"transform": [{"filter": "datum.kind=='pct'"}], "mark": {"type": "text", "fontSize": 15}, "encoding": {"text": {"field": "text"}}}
      ]}
   ]},

  {"width": 60, "height": 120, "view": {"stroke": null}, "data": {"name": "rowlabels"}, "transform": [{"filter": "datum.row=='K562'"}],
   "layer": [
     {"mark": {"type": "rect", "fill": "white", "stroke": "black", "strokeWidth": 1}, "encoding": {"y": {"field": "y1", "type": "quantitative", "scale": {"domain": [0, 1], "reverse": true}, "axis": null}, "y2": {"field": "y2"}}},
     {"mark": {"type": "text", "fontSize": 15}, "encoding": {"y": {"field": "ym", "type": "quantitative"}, "text": {"field": "row"}}}
   ]},
  {"width": 168, "height": 120,
   "encoding": {
     "x": {"field": "fl", "type": "quantitative", "scale": {"type": "log", "domain": [1, 10000], "nice": false}, "axis": {"title": null, "values": [1,2,3,4,5,6,7,8,9,10,20,30,40,50,60,70,80,90,100,200,300,400,500,600,700,800,900,1000,2000,3000,4000,5000,6000,7000,8000,9000,10000], "labelExpr": "datum.value==1?'10⁰':datum.value==10?'10¹':datum.value==100?'10²':datum.value==1000?'10³':datum.value==10000?'10⁴':''"}},
     "y": {"field": "count", "type": "quantitative", "scale": {"domain": [0, 450], "nice": false}, "axis": {"title": "Counts", "values": [0,15,30,45,60,75,90,105,120,135,150,165,180,195,210,225,240,255,270,285,300,315,330,345,360,375,390,405,420,435,450], "labelExpr": "datum.value==0||datum.value==450?datum.label:''"}}},
   "layer": [
     {"data": {"name": "hist"}, "transform": [{"filter": "datum.panel=='K562-neg'"}], "mark": {"type": "line", "clip": true}},
     {"data": {"name": "annot"}, "transform": [{"filter": "datum.panel=='K562-neg'"}],
      "layer": [
        {"transform": [{"filter": "datum.kind=='gate'"}], "mark": "rule", "encoding": {"x2": {"field": "fl2"}}},
        {"transform": [{"filter": "datum.kind=='tick'"}], "mark": "rule", "encoding": {"y2": {"field": "count2"}}},
        {"transform": [{"filter": "datum.kind=='box'"}], "mark": {"type": "rect", "fill": null, "stroke": "black", "strokeWidth": 1}, "encoding": {"x2": {"field": "fl2"}, "y2": {"field": "count2"}}},
        {"transform": [{"filter": "datum.kind=='m1'"}], "mark": {"type": "text", "baseline": "top", "dy": 6, "fontSize": 12}, "encoding": {"text": {"field": "text"}}},
        {"transform": [{"filter": "datum.kind=='pct'"}], "mark": {"type": "text", "fontSize": 15}, "encoding": {"text": {"field": "text"}}}
      ]}
   ]},
  {"width": 153, "height": 120,
   "encoding": {
     "x": {"field": "fl", "type": "quantitative", "scale": {"type": "log", "domain": [1, 10000], "nice": false}, "axis": {"title": null, "values": [1,2,3,4,5,6,7,8,9,10,20,30,40,50,60,70,80,90,100,200,300,400,500,600,700,800,900,1000,2000,3000,4000,5000,6000,7000,8000,9000,10000], "labelExpr": "datum.value==1?'10⁰':datum.value==10?'10¹':datum.value==100?'10²':datum.value==1000?'10³':datum.value==10000?'10⁴':''"}},
     "y": {"field": "count", "type": "quantitative", "scale": {"domain": [0, 450], "nice": false}, "axis": {"title": "Counts", "values": [0,15,30,45,60,75,90,105,120,135,150,165,180,195,210,225,240,255,270,285,300,315,330,345,360,375,390,405,420,435,450], "labelExpr": "datum.value==0||datum.value==450?datum.label:''"}}},
   "layer": [
     {"data": {"name": "hist"}, "transform": [{"filter": "datum.panel=='K562-CAR'"}], "mark": {"type": "line", "clip": true}},
     {"data": {"name": "annot"}, "transform": [{"filter": "datum.panel=='K562-CAR'"}],
      "layer": [
        {"transform": [{"filter": "datum.kind=='gate'"}], "mark": "rule", "encoding": {"x2": {"field": "fl2"}}},
        {"transform": [{"filter": "datum.kind=='tick'"}], "mark": "rule", "encoding": {"y2": {"field": "count2"}}},
        {"transform": [{"filter": "datum.kind=='box'"}], "mark": {"type": "rect", "fill": null, "stroke": "black", "strokeWidth": 1}, "encoding": {"x2": {"field": "fl2"}, "y2": {"field": "count2"}}},
        {"transform": [{"filter": "datum.kind=='m1'"}], "mark": {"type": "text", "baseline": "top", "dy": 6, "fontSize": 12}, "encoding": {"text": {"field": "text"}}},
        {"transform": [{"filter": "datum.kind=='pct'"}], "mark": {"type": "text", "fontSize": 15}, "encoding": {"text": {"field": "text"}}}
      ]}
   ]},
  {"width": 155, "height": 120,
   "encoding": {
     "x": {"field": "fl", "type": "quantitative", "scale": {"type": "log", "domain": [1, 10000], "nice": false}, "axis": {"title": null, "values": [1,2,3,4,5,6,7,8,9,10,20,30,40,50,60,70,80,90,100,200,300,400,500,600,700,800,900,1000,2000,3000,4000,5000,6000,7000,8000,9000,10000], "labelExpr": "datum.value==1?'10⁰':datum.value==10?'10¹':datum.value==100?'10²':datum.value==1000?'10³':datum.value==10000?'10⁴':''"}},
     "y": {"field": "count", "type": "quantitative", "scale": {"domain": [0, 450], "nice": false}, "axis": {"title": "Counts", "values": [0,15,30,45,60,75,90,105,120,135,150,165,180,195,210,225,240,255,270,285,300,315,330,345,360,375,390,405,420,435,450], "labelExpr": "datum.value==0||datum.value==450?datum.label:''"}}},
   "layer": [
     {"data": {"name": "hist"}, "transform": [{"filter": "datum.panel=='K562-av'"}], "mark": {"type": "line", "clip": true}},
     {"data": {"name": "annot"}, "transform": [{"filter": "datum.panel=='K562-av'"}],
      "layer": [
        {"transform": [{"filter": "datum.kind=='gate'"}], "mark": "rule", "encoding": {"x2": {"field": "fl2"}}},
        {"transform": [{"filter": "datum.kind=='tick'"}], "mark": "rule", "encoding": {"y2": {"field": "count2"}}},
        {"transform": [{"filter": "datum.kind=='box'"}], "mark": {"type": "rect", "fill": null, "stroke": "black", "strokeWidth": 1}, "encoding": {"x2": {"field": "fl2"}, "y2": {"field": "count2"}}},
        {"transform": [{"filter": "datum.kind=='m1'"}], "mark": {"type": "text", "baseline": "top", "dy": 6, "fontSize": 12}, "encoding": {"text": {"field": "text"}}},
        {"transform": [{"filter": "datum.kind=='pct'"}], "mark": {"type": "text", "fontSize": 15}, "encoding": {"text": {"field": "text"}}}
      ]}
   ]},

  {"width": 60, "height": 129, "view": {"stroke": null}, "data": {"name": "rowlabels"}, "transform": [{"filter": "datum.row=='CD34+'"}],
   "layer": [
     {"mark": {"type": "rect", "fill": "white", "stroke": "black", "strokeWidth": 1}, "encoding": {"y": {"field": "y1", "type": "quantitative", "scale": {"domain": [0, 1], "reverse": true}, "axis": null}, "y2": {"field": "y2"}}},
     {"mark": {"type": "text", "fontSize": 15}, "encoding": {"y": {"field": "ym", "type": "quantitative"}, "text": {"field": "row"}}}
   ]},
  {"width": 168, "height": 129,
   "encoding": {
     "x": {"field": "fl", "type": "quantitative", "scale": {"type": "log", "domain": [1, 10000], "nice": false}, "axis": {"title": null, "values": [1,2,3,4,5,6,7,8,9,10,20,30,40,50,60,70,80,90,100,200,300,400,500,600,700,800,900,1000,2000,3000,4000,5000,6000,7000,8000,9000,10000], "labelExpr": "datum.value==1?'10⁰':datum.value==10?'10¹':datum.value==100?'10²':datum.value==1000?'10³':datum.value==10000?'10⁴':''"}},
     "y": {"field": "count", "type": "quantitative", "scale": {"domain": [0, 60], "nice": false}, "axis": {"title": "Counts", "values": [0,2,4,6,8,10,12,14,16,18,20,22,24,26,28,30,32,34,36,38,40,42,44,46,48,50,52,54,56,58,60], "labelExpr": "datum.value%10==0?datum.label:''"}}},
   "layer": [
     {"data": {"name": "hist"}, "transform": [{"filter": "datum.panel=='CD34-neg'"}], "mark": {"type": "line", "clip": true}},
     {"data": {"name": "annot"}, "transform": [{"filter": "datum.panel=='CD34-neg'"}],
      "layer": [
        {"transform": [{"filter": "datum.kind=='gate'"}], "mark": "rule", "encoding": {"x2": {"field": "fl2"}}},
        {"transform": [{"filter": "datum.kind=='tick'"}], "mark": "rule", "encoding": {"y2": {"field": "count2"}}},
        {"transform": [{"filter": "datum.kind=='box'"}], "mark": {"type": "rect", "fill": null, "stroke": "black", "strokeWidth": 1}, "encoding": {"x2": {"field": "fl2"}, "y2": {"field": "count2"}}},
        {"transform": [{"filter": "datum.kind=='m1'"}], "mark": {"type": "text", "baseline": "top", "dy": 6, "fontSize": 12}, "encoding": {"text": {"field": "text"}}},
        {"transform": [{"filter": "datum.kind=='pct'"}], "mark": {"type": "text", "fontSize": 15}, "encoding": {"text": {"field": "text"}}}
      ]}
   ]},
  {"width": 153, "height": 129,
   "encoding": {
     "x": {"field": "fl", "type": "quantitative", "scale": {"type": "log", "domain": [1, 10000], "nice": false}, "axis": {"title": null, "values": [1,2,3,4,5,6,7,8,9,10,20,30,40,50,60,70,80,90,100,200,300,400,500,600,700,800,900,1000,2000,3000,4000,5000,6000,7000,8000,9000,10000], "labelExpr": "datum.value==1?'10⁰':datum.value==10?'10¹':datum.value==100?'10²':datum.value==1000?'10³':datum.value==10000?'10⁴':''"}},
     "y": {"field": "count", "type": "quantitative", "scale": {"domain": [0, 60], "nice": false}, "axis": {"title": "Counts", "values": [0,2,4,6,8,10,12,14,16,18,20,22,24,26,28,30,32,34,36,38,40,42,44,46,48,50,52,54,56,58,60], "labelExpr": "datum.value%10==0?datum.label:''"}}},
   "layer": [
     {"data": {"name": "hist"}, "transform": [{"filter": "datum.panel=='CD34-CAR'"}], "mark": {"type": "line", "clip": true}},
     {"data": {"name": "annot"}, "transform": [{"filter": "datum.panel=='CD34-CAR'"}],
      "layer": [
        {"transform": [{"filter": "datum.kind=='gate'"}], "mark": "rule", "encoding": {"x2": {"field": "fl2"}}},
        {"transform": [{"filter": "datum.kind=='tick'"}], "mark": "rule", "encoding": {"y2": {"field": "count2"}}},
        {"transform": [{"filter": "datum.kind=='box'"}], "mark": {"type": "rect", "fill": null, "stroke": "black", "strokeWidth": 1}, "encoding": {"x2": {"field": "fl2"}, "y2": {"field": "count2"}}},
        {"transform": [{"filter": "datum.kind=='m1'"}], "mark": {"type": "text", "baseline": "top", "dy": 6, "fontSize": 12}, "encoding": {"text": {"field": "text"}}},
        {"transform": [{"filter": "datum.kind=='pct'"}], "mark": {"type": "text", "fontSize": 15}, "encoding": {"text": {"field": "text"}}}
      ]}
   ]},
  {"width": 155, "height": 129,
   "encoding": {
     "x": {"field": "fl", "type": "quantitative", "scale": {"type": "log", "domain": [1, 10000], "nice": false}, "axis": {"title": null, "values": [1,2,3,4,5,6,7,8,9,10,20,30,40,50,60,70,80,90,100,200,300,400,500,600,700,800,900,1000,2000,3000,4000,5000,6000,7000,8000,9000,10000], "labelExpr": "datum.value==1?'10⁰':datum.value==10?'10¹':datum.value==100?'10²':datum.value==1000?'10³':datum.value==10000?'10⁴':''"}},
     "y": {"field": "count", "type": "quantitative", "scale": {"domain": [0, 60], "nice": false}, "axis": {"title": "Counts", "values": [0,2,4,6,8,10,12,14,16,18,20,22,24,26,28,30,32,34,36,38,40,42,44,46,48,50,52,54,56,58,60], "labelExpr": "datum.value%10==0?datum.label:''"}}},
   "layer": [
     {"data": {"name": "hist"}, "transform": [{"filter": "datum.panel=='CD34-av'"}], "mark": {"type": "line", "clip": true}},
     {"data": {"name": "annot"}, "transform": [{"filter": "datum.panel=='CD34-av'"}],
      "layer": [
        {"transform": [{"filter": "datum.kind=='gate'"}], "mark": "rule", "encoding": {"x2": {"field": "fl2"}}},
        {"transform": [{"filter": "datum.kind=='tick'"}], "mark": "rule", "encoding": {"y2": {"field": "count2"}}},
        {"transform": [{"filter": "datum.kind=='box'"}], "mark": {"type": "rect", "fill": null, "stroke": "black", "strokeWidth": 1}, "encoding": {"x2": {"field": "fl2"}, "y2": {"field": "count2"}}},
        {"transform": [{"filter": "datum.kind=='m1'"}], "mark": {"type": "text", "baseline": "top", "dy": 6, "fontSize": 12}, "encoding": {"text": {"field": "text"}}},
        {"transform": [{"filter": "datum.kind=='pct'"}], "mark": {"type": "text", "fontSize": 15}, "encoding": {"text": {"field": "text"}}}
      ]}
   ]}
]
}
